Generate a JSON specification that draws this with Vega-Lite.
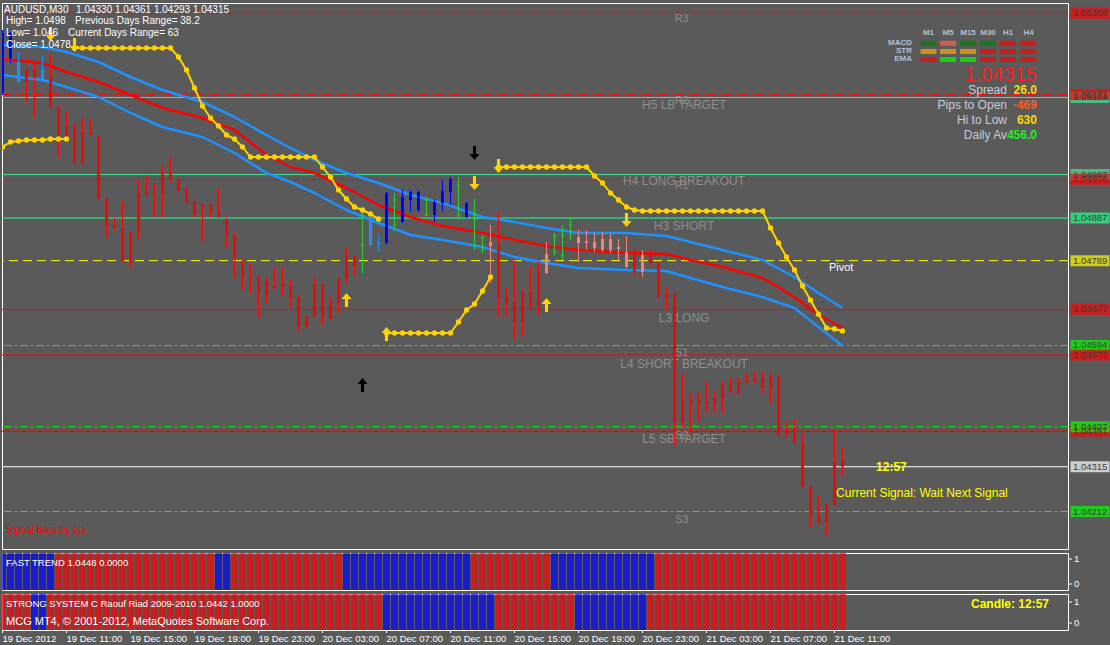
{
"$schema":"https://vega.github.io/schema/vega-lite/v6.json",
"background":"#5a5a5a",
"padding":{"left":0,"top":2,"right":0,"bottom":0},
"spacing":2,
"config":{"view":{"stroke":"#ffffff","strokeWidth":1},"font":"Liberation Sans","text":{"font":"Liberation Sans"},"axis":{"grid":false,"labelFont":"Liberation Sans"}},
"resolve":{"scale":{"x":"independent","y":"independent","color":"independent"}},
"datasets":{
"bars":[
{"i":0,"o":1.051769,"h":1.053195,"l":1.0517,"c":1.053126,"sig":"up","stop":1.050504,"seg":"a","ft":"up","ss":"dn"},
{"i":1,"o":1.052551,"h":1.053149,"l":1.052436,"c":1.053126,"sig":"up","stop":1.050619,"seg":"a","ft":"up","ss":"dn"},
{"i":2,"o":1.051999,"h":1.052689,"l":1.051976,"c":1.052459,"sig":"wup","stop":1.050642,"seg":"a","ft":"up","ss":"dn"},
{"i":3,"o":1.052275,"h":1.052298,"l":1.051539,"c":1.051999,"sig":"dn","stop":1.050665,"seg":"a","ft":"up","ss":"dn"},
{"i":4,"o":1.052275,"h":1.052459,"l":1.051194,"c":1.052114,"sig":"dn","stop":1.050665,"seg":"a","ft":"up","ss":"up"},
{"i":5,"o":1.052045,"h":1.052597,"l":1.052022,"c":1.052275,"sig":"wup","stop":1.050665,"seg":"a","ft":"up","ss":"up"},
{"i":6,"o":1.052114,"h":1.052666,"l":1.051401,"c":1.051424,"sig":"dn","stop":1.050688,"seg":"a","ft":"up","ss":"dn"},
{"i":7,"o":1.051424,"h":1.051447,"l":1.050274,"c":1.050711,"sig":"dn","stop":1.050688,"seg":"a","ft":"dn","ss":"dn"},
{"i":8,"o":1.050964,"h":1.051309,"l":1.050688,"c":1.050711,"sig":"dn","stop":1.050688,"seg":"a","ft":"dn","ss":"dn"},
{"i":9,"o":1.050964,"h":1.051056,"l":1.050113,"c":1.050136,"sig":"dn","stop":1.052781,"seg":"b","ft":"dn","ss":"dn"},
{"i":10,"o":1.050849,"h":1.051194,"l":1.050113,"c":1.050136,"sig":"dn","stop":1.052781,"seg":"b","ft":"dn","ss":"dn"},
{"i":11,"o":1.050849,"h":1.051125,"l":1.050757,"c":1.05078,"sig":"dn","stop":1.052781,"seg":"b","ft":"dn","ss":"dn"},
{"i":12,"o":1.050757,"h":1.05078,"l":1.049285,"c":1.049308,"sig":"dn","stop":1.052781,"seg":"b","ft":"dn","ss":"dn"},
{"i":13,"o":1.049308,"h":1.049354,"l":1.048411,"c":1.04871,"sig":"dn","stop":1.052781,"seg":"b","ft":"dn","ss":"dn"},
{"i":14,"o":1.04871,"h":1.048871,"l":1.048595,"c":1.048641,"sig":"dn","stop":1.052781,"seg":"b","ft":"dn","ss":"dn"},
{"i":15,"o":1.048641,"h":1.049239,"l":1.047859,"c":1.047882,"sig":"dn","stop":1.052781,"seg":"b","ft":"dn","ss":"dn"},
{"i":16,"o":1.048549,"h":1.048572,"l":1.047721,"c":1.047882,"sig":"dn","stop":1.052781,"seg":"b","ft":"dn","ss":"dn"},
{"i":17,"o":1.049423,"h":1.049745,"l":1.048365,"c":1.048549,"sig":"dn","stop":1.052781,"seg":"b","ft":"dn","ss":"dn"},
{"i":18,"o":1.049446,"h":1.04986,"l":1.049377,"c":1.0494,"sig":"dn","stop":1.052781,"seg":"b","ft":"dn","ss":"dn"},
{"i":19,"o":1.049446,"h":1.049676,"l":1.048894,"c":1.0494,"sig":"dn","stop":1.052781,"seg":"b","ft":"dn","ss":"dn"},
{"i":20,"o":1.049883,"h":1.05009,"l":1.048894,"c":1.049446,"sig":"dn","stop":1.052781,"seg":"b","ft":"dn","ss":"dn"},
{"i":21,"o":1.049883,"h":1.050274,"l":1.049699,"c":1.049745,"sig":"dn","stop":1.052781,"seg":"b","ft":"dn","ss":"dn"},
{"i":22,"o":1.049768,"h":1.049768,"l":1.049492,"c":1.049515,"sig":"dn","stop":1.052574,"seg":"b","ft":"dn","ss":"dn"},
{"i":23,"o":1.049538,"h":1.049561,"l":1.049216,"c":1.049239,"sig":"dn","stop":1.052275,"seg":"b","ft":"dn","ss":"dn"},
{"i":24,"o":1.049239,"h":1.049262,"l":1.048894,"c":1.04894,"sig":"dn","stop":1.051861,"seg":"b","ft":"dn","ss":"dn"},
{"i":25,"o":1.049193,"h":1.049193,"l":1.048319,"c":1.049147,"sig":"dn","stop":1.051447,"seg":"b","ft":"dn","ss":"dn"},
{"i":26,"o":1.049193,"h":1.049216,"l":1.048894,"c":1.049032,"sig":"dn","stop":1.051171,"seg":"b","ft":"dn","ss":"dn"},
{"i":27,"o":1.049032,"h":1.049561,"l":1.048871,"c":1.048894,"sig":"dn","stop":1.050987,"seg":"b","ft":"up","ss":"dn"},
{"i":28,"o":1.048848,"h":1.048871,"l":1.048204,"c":1.04848,"sig":"dn","stop":1.05078,"seg":"b","ft":"up","ss":"dn"},
{"i":29,"o":1.04848,"h":1.048503,"l":1.047491,"c":1.047974,"sig":"dn","stop":1.050688,"seg":"b","ft":"dn","ss":"dn"},
{"i":30,"o":1.047813,"h":1.047905,"l":1.047215,"c":1.047514,"sig":"dn","stop":1.050504,"seg":"b","ft":"dn","ss":"dn"},
{"i":31,"o":1.047514,"h":1.047836,"l":1.047146,"c":1.047468,"sig":"dn","stop":1.050274,"seg":"b","ft":"dn","ss":"dn"},
{"i":32,"o":1.047514,"h":1.047537,"l":1.046571,"c":1.047146,"sig":"dn","stop":1.050274,"seg":"b","ft":"dn","ss":"dn"},
{"i":33,"o":1.047399,"h":1.047514,"l":1.046916,"c":1.047123,"sig":"dn","stop":1.050274,"seg":"b","ft":"dn","ss":"dn"},
{"i":34,"o":1.047307,"h":1.047721,"l":1.047238,"c":1.047261,"sig":"dn","stop":1.050274,"seg":"b","ft":"dn","ss":"dn"},
{"i":35,"o":1.047376,"h":1.047721,"l":1.0471,"c":1.047284,"sig":"dn","stop":1.050274,"seg":"b","ft":"dn","ss":"dn"},
{"i":36,"o":1.047284,"h":1.047445,"l":1.046801,"c":1.047054,"sig":"dn","stop":1.050274,"seg":"b","ft":"dn","ss":"dn"},
{"i":37,"o":1.047054,"h":1.047077,"l":1.046272,"c":1.046364,"sig":"dn","stop":1.050274,"seg":"b","ft":"dn","ss":"dn"},
{"i":38,"o":1.046617,"h":1.04664,"l":1.046341,"c":1.046364,"sig":"dn","stop":1.050274,"seg":"b","ft":"dn","ss":"dn"},
{"i":39,"o":1.047353,"h":1.047514,"l":1.046571,"c":1.046594,"sig":"dn","stop":1.050274,"seg":"b","ft":"dn","ss":"dn"},
{"i":40,"o":1.047353,"h":1.047376,"l":1.04641,"c":1.046594,"sig":"dn","stop":1.050044,"seg":"b","ft":"dn","ss":"dn"},
{"i":41,"o":1.046939,"h":1.047054,"l":1.046548,"c":1.046571,"sig":"dn","stop":1.049814,"seg":"b","ft":"dn","ss":"dn"},
{"i":42,"o":1.047468,"h":1.047514,"l":1.046686,"c":1.046916,"sig":"dn","stop":1.049515,"seg":"b","ft":"dn","ss":"dn"},
{"i":43,"o":1.047997,"h":1.048181,"l":1.047376,"c":1.047468,"sig":"dn","stop":1.049308,"seg":"b","ft":"up","ss":"dn"},
{"i":44,"o":1.047997,"h":1.04802,"l":1.04756,"c":1.047767,"sig":"dn","stop":1.049124,"seg":"b","ft":"up","ss":"dn"},
{"i":45,"o":1.048249,"h":1.049009,"l":1.047606,"c":1.04894,"sig":"flat","stop":1.049055,"seg":"b","ft":"up","ss":"dn"},
{"i":46,"o":1.048894,"h":1.048917,"l":1.048226,"c":1.048249,"sig":"wup","stop":1.048963,"seg":"b","ft":"up","ss":"dn"},
{"i":47,"o":1.048319,"h":1.04848,"l":1.048089,"c":1.048273,"sig":"wup","stop":1.048848,"seg":"b","ft":"up","ss":"dn"},
{"i":48,"o":1.048296,"h":1.049469,"l":1.048273,"c":1.049446,"sig":"up","stop":1.046226,"seg":"c","ft":"up","ss":"up"},
{"i":49,"o":1.04871,"h":1.049446,"l":1.048595,"c":1.049285,"sig":"flat","stop":1.046226,"seg":"c","ft":"up","ss":"up"},
{"i":50,"o":1.048779,"h":1.049515,"l":1.048756,"c":1.049354,"sig":"up","stop":1.046226,"seg":"c","ft":"up","ss":"up"},
{"i":51,"o":1.049285,"h":1.049515,"l":1.049009,"c":1.049469,"sig":"up","stop":1.046226,"seg":"c","ft":"up","ss":"up"},
{"i":52,"o":1.049055,"h":1.049515,"l":1.049009,"c":1.049469,"sig":"up","stop":1.046226,"seg":"c","ft":"up","ss":"up"},
{"i":53,"o":1.04894,"h":1.049354,"l":1.048917,"c":1.049285,"sig":"flat","stop":1.046226,"seg":"c","ft":"up","ss":"up"},
{"i":54,"o":1.04894,"h":1.049308,"l":1.048779,"c":1.049239,"sig":"up","stop":1.046226,"seg":"c","ft":"up","ss":"up"},
{"i":55,"o":1.049216,"h":1.049745,"l":1.049009,"c":1.049492,"sig":"up","stop":1.046226,"seg":"c","ft":"up","ss":"up"},
{"i":56,"o":1.049469,"h":1.049814,"l":1.04917,"c":1.049768,"sig":"up","stop":1.046226,"seg":"c","ft":"up","ss":"up"},
{"i":57,"o":1.04894,"h":1.049814,"l":1.048894,"c":1.04963,"sig":"flat","stop":1.046479,"seg":"c","ft":"up","ss":"up"},
{"i":58,"o":1.048894,"h":1.049239,"l":1.048871,"c":1.049216,"sig":"up","stop":1.046755,"seg":"c","ft":"up","ss":"up"},
{"i":59,"o":1.048249,"h":1.049308,"l":1.048135,"c":1.04894,"sig":"flat","stop":1.046893,"seg":"c","ft":"dn","ss":"up"},
{"i":60,"o":1.048135,"h":1.04848,"l":1.048066,"c":1.048411,"sig":"flat","stop":1.047192,"seg":"c","ft":"dn","ss":"up"},
{"i":61,"o":1.048319,"h":1.04871,"l":1.047376,"c":1.048227,"sig":"wdn","stop":1.047514,"seg":"c","ft":"dn","ss":"up"},
{"i":62,"o":1.048296,"h":1.049009,"l":1.046594,"c":1.047054,"sig":"dn","stop":1.050044,"seg":"d","ft":"dn","ss":"dn"},
{"i":63,"o":1.047077,"h":1.047284,"l":1.046594,"c":1.046939,"sig":"dn","stop":1.050044,"seg":"d","ft":"dn","ss":"dn"},
{"i":64,"o":1.046939,"h":1.047905,"l":1.046065,"c":1.046479,"sig":"dn","stop":1.050044,"seg":"d","ft":"dn","ss":"dn"},
{"i":65,"o":1.047192,"h":1.047215,"l":1.04618,"c":1.046479,"sig":"dn","stop":1.050044,"seg":"d","ft":"dn","ss":"dn"},
{"i":66,"o":1.047169,"h":1.047721,"l":1.046778,"c":1.046801,"sig":"dn","stop":1.050044,"seg":"d","ft":"dn","ss":"dn"},
{"i":67,"o":1.047629,"h":1.047859,"l":1.04664,"c":1.046824,"sig":"dn","stop":1.050044,"seg":"d","ft":"dn","ss":"dn"},
{"i":68,"o":1.048043,"h":1.048319,"l":1.047583,"c":1.047606,"sig":"wdn","stop":1.050044,"seg":"d","ft":"dn","ss":"dn"},
{"i":69,"o":1.048089,"h":1.048526,"l":1.04802,"c":1.048457,"sig":"flat","stop":1.050044,"seg":"d","ft":"up","ss":"dn"},
{"i":70,"o":1.04802,"h":1.04871,"l":1.047905,"c":1.04848,"sig":"flat","stop":1.050044,"seg":"d","ft":"up","ss":"dn"},
{"i":71,"o":1.04848,"h":1.048871,"l":1.048365,"c":1.04871,"sig":"flat","stop":1.050044,"seg":"d","ft":"up","ss":"dn"},
{"i":72,"o":1.048434,"h":1.048595,"l":1.047859,"c":1.048296,"sig":"wdn","stop":1.050044,"seg":"d","ft":"up","ss":"up"},
{"i":73,"o":1.048342,"h":1.048595,"l":1.048135,"c":1.048296,"sig":"wdn","stop":1.050044,"seg":"d","ft":"up","ss":"up"},
{"i":74,"o":1.048319,"h":1.048526,"l":1.048089,"c":1.048181,"sig":"wdn","stop":1.049837,"seg":"d","ft":"up","ss":"up"},
{"i":75,"o":1.048388,"h":1.048549,"l":1.048089,"c":1.048135,"sig":"wdn","stop":1.049676,"seg":"d","ft":"up","ss":"up"},
{"i":76,"o":1.048388,"h":1.048526,"l":1.048066,"c":1.048135,"sig":"wdn","stop":1.049446,"seg":"d","ft":"up","ss":"up"},
{"i":77,"o":1.048204,"h":1.048388,"l":1.047905,"c":1.048158,"sig":"wdn","stop":1.049285,"seg":"d","ft":"up","ss":"up"},
{"i":78,"o":1.048089,"h":1.048457,"l":1.047721,"c":1.047744,"sig":"wdn","stop":1.049124,"seg":"d","ft":"up","ss":"up"},
{"i":79,"o":1.048135,"h":1.048158,"l":1.04756,"c":1.047629,"sig":"dn","stop":1.049055,"seg":"d","ft":"up","ss":"up"},
{"i":80,"o":1.04802,"h":1.048135,"l":1.047514,"c":1.047629,"sig":"wdn","stop":1.049032,"seg":"d","ft":"up","ss":"up"},
{"i":81,"o":1.048089,"h":1.048135,"l":1.04779,"c":1.047836,"sig":"dn","stop":1.049032,"seg":"d","ft":"up","ss":"dn"},
{"i":82,"o":1.047836,"h":1.047859,"l":1.047031,"c":1.047054,"sig":"dn","stop":1.049032,"seg":"d","ft":"dn","ss":"dn"},
{"i":83,"o":1.0471,"h":1.047284,"l":1.046755,"c":1.047054,"sig":"dn","stop":1.049032,"seg":"d","ft":"dn","ss":"dn"},
{"i":84,"o":1.047123,"h":1.047146,"l":1.04365,"c":1.044156,"sig":"dn","stop":1.049032,"seg":"d","ft":"dn","ss":"dn"},
{"i":85,"o":1.044685,"h":1.045306,"l":1.044064,"c":1.044156,"sig":"dn","stop":1.049032,"seg":"d","ft":"dn","ss":"dn"},
{"i":86,"o":1.044685,"h":1.044846,"l":1.043926,"c":1.044616,"sig":"dn","stop":1.049032,"seg":"d","ft":"dn","ss":"dn"},
{"i":87,"o":1.044685,"h":1.044892,"l":1.044179,"c":1.044616,"sig":"dn","stop":1.049032,"seg":"d","ft":"dn","ss":"dn"},
{"i":88,"o":1.044662,"h":1.045099,"l":1.044386,"c":1.044593,"sig":"dn","stop":1.049032,"seg":"d","ft":"dn","ss":"dn"},
{"i":89,"o":1.044731,"h":1.044869,"l":1.044386,"c":1.04457,"sig":"dn","stop":1.049032,"seg":"d","ft":"dn","ss":"dn"},
{"i":90,"o":1.045032,"h":1.045099,"l":1.044386,"c":1.044708,"sig":"dn","stop":1.049032,"seg":"d","ft":"dn","ss":"dn"},
{"i":91,"o":1.045032,"h":1.045191,"l":1.044846,"c":1.044869,"sig":"dn","stop":1.049032,"seg":"d","ft":"dn","ss":"dn"},
{"i":92,"o":1.045099,"h":1.045191,"l":1.044823,"c":1.044846,"sig":"dn","stop":1.049032,"seg":"d","ft":"dn","ss":"dn"},
{"i":93,"o":1.045145,"h":1.045306,"l":1.045053,"c":1.045076,"sig":"dn","stop":1.049032,"seg":"d","ft":"dn","ss":"dn"},
{"i":94,"o":1.045214,"h":1.045352,"l":1.045076,"c":1.045145,"sig":"dn","stop":1.049032,"seg":"d","ft":"dn","ss":"dn"},
{"i":95,"o":1.045214,"h":1.045352,"l":1.044846,"c":1.044961,"sig":"dn","stop":1.049032,"seg":"d","ft":"dn","ss":"dn"},
{"i":96,"o":1.045237,"h":1.045306,"l":1.044616,"c":1.044984,"sig":"dn","stop":1.048641,"seg":"d","ft":"dn","ss":"dn"},
{"i":97,"o":1.045237,"h":1.04526,"l":1.043857,"c":1.04388,"sig":"dn","stop":1.048296,"seg":"d","ft":"dn","ss":"dn"},
{"i":98,"o":1.043995,"h":1.044179,"l":1.043811,"c":1.043903,"sig":"dn","stop":1.047974,"seg":"d","ft":"dn","ss":"dn"},
{"i":99,"o":1.044018,"h":1.044225,"l":1.043673,"c":1.043696,"sig":"dn","stop":1.047675,"seg":"d","ft":"dn","ss":"dn"},
{"i":100,"o":1.043696,"h":1.043926,"l":1.042661,"c":1.042684,"sig":"dn","stop":1.047307,"seg":"d","ft":"dn","ss":"dn"},
{"i":101,"o":1.042684,"h":1.04273,"l":1.041764,"c":1.04204,"sig":"dn","stop":1.04698,"seg":"d","ft":"dn","ss":"dn"},
{"i":102,"o":1.04204,"h":1.0425,"l":1.041856,"c":1.041879,"sig":"dn","stop":1.046658,"seg":"d","ft":"dn","ss":"dn"},
{"i":103,"o":1.041879,"h":1.042316,"l":1.04158,"c":1.042293,"sig":"dn","stop":1.046341,"seg":"d","ft":"dn","ss":"dn"},
{"i":104,"o":1.04227,"h":1.043995,"l":1.042247,"c":1.043259,"sig":"dn","stop":1.046318,"seg":"d","ft":"dn","ss":"dn"},
{"i":105,"o":1.0433,"h":1.04361,"l":1.04293,"c":1.04315,"sig":"dn","stop":1.046272,"seg":"d","ft":"dn","ss":"dn"}
],
"ma":[
{"i":0,"ub":1.05285,"ma":1.052528,"lb":1.05216},
{"i":5,"ub":1.052804,"ma":1.052436,"lb":1.052045},
{"i":8,"ub":1.052689,"ma":1.052229,"lb":1.051884},
{"i":12,"ub":1.052459,"ma":1.051999,"lb":1.051654},
{"i":16,"ub":1.052114,"ma":1.0517,"lb":1.051286},
{"i":20,"ub":1.051815,"ma":1.051401,"lb":1.050964},
{"i":25,"ub":1.051539,"ma":1.051171,"lb":1.050734},
{"i":29,"ub":1.051194,"ma":1.050895,"lb":1.050366},
{"i":33,"ub":1.05078,"ma":1.05032,"lb":1.049906},
{"i":36,"ub":1.050481,"ma":1.050044,"lb":1.049699},
{"i":39,"ub":1.050205,"ma":1.049906,"lb":1.049446},
{"i":43,"ub":1.049906,"ma":1.049561,"lb":1.049055},
{"i":47,"ub":1.049676,"ma":1.04917,"lb":1.048756},
{"i":51,"ub":1.0494,"ma":1.048894,"lb":1.04848},
{"i":55,"ub":1.049216,"ma":1.048687,"lb":1.048365},
{"i":60,"ub":1.048894,"ma":1.048526,"lb":1.048204},
{"i":64,"ub":1.048779,"ma":1.048365,"lb":1.047974},
{"i":68,"ub":1.048641,"ma":1.048227,"lb":1.047836},
{"i":72,"ub":1.048526,"ma":1.048135,"lb":1.047721},
{"i":78,"ub":1.048526,"ma":1.048066,"lb":1.047675},
{"i":83,"ub":1.048457,"ma":1.048043,"lb":1.047652},
{"i":86,"ub":1.048319,"ma":1.047905,"lb":1.047491},
{"i":90,"ub":1.048135,"ma":1.047744,"lb":1.047284},
{"i":95,"ub":1.047905,"ma":1.047491,"lb":1.047054},
{"i":99,"ub":1.047514,"ma":1.047054,"lb":1.046801},
{"i":102,"ub":1.047146,"ma":1.04664,"lb":1.046364},
{"i":105,"ub":1.046801,"ma":1.046341,"lb":1.045927}
],
"levels":[
{"p":1.05358,"k":"rdd"},
{"p":1.051643,"k":"mint"},
{"p":1.05171,"k":"rdd"},
{"p":1.04987,"k":"mint"},
{"p":1.04976,"k":"rdd"},
{"p":1.04887,"k":"spring"},
{"p":1.04789,"k":"ydash"},
{"p":1.04677,"k":"r3"},
{"p":1.04594,"k":"gdd"},
{"p":1.04572,"k":"r2"},
{"p":1.04397,"k":"r1"},
{"p":1.04407,"k":"gdd"},
{"p":1.04315,"k":"w"},
{"p":1.04212,"k":"gdd"}
],
"arrows":[
{"i":6,"p":1.053103,"dir":"down","src":"stop"},
{"i":9,"p":1.05285,"dir":"down","src":"stop"},
{"i":43,"p":1.046985,"dir":"up","src":"stop"},
{"i":45,"p":1.04503,"dir":"up","src":"sig"},
{"i":48,"p":1.046203,"dir":"up","src":"stop"},
{"i":59,"p":1.050366,"dir":"down","src":"sig"},
{"i":59,"p":1.049676,"dir":"down","src":"stop"},
{"i":62,"p":1.050067,"dir":"down","src":"stop"},
{"i":68,"p":1.04687,"dir":"up","src":"stop"},
{"i":78,"p":1.048825,"dir":"down","src":"stop"}
],
"cells":[
{"i":115.75,"p":1.05289,"v":"bull"},{"i":118.19,"p":1.05289,"v":"wbear"},{"i":120.69,"p":1.05289,"v":"bull"},{"i":123.19,"p":1.05289,"v":"bull"},{"i":125.69,"p":1.05289,"v":"bear"},{"i":128.25,"p":1.05289,"v":"bear"},
{"i":115.75,"p":1.052701,"v":"neut"},{"i":118.19,"p":1.052701,"v":"neut"},{"i":120.69,"p":1.052701,"v":"neut"},{"i":123.19,"p":1.052701,"v":"bear"},{"i":125.69,"p":1.052701,"v":"bear"},{"i":128.25,"p":1.052701,"v":"bear"},
{"i":115.75,"p":1.052517,"v":"bear"},{"i":118.19,"p":1.052517,"v":"sbull"},{"i":120.69,"p":1.052517,"v":"sbull"},{"i":123.19,"p":1.052517,"v":"bear"},{"i":125.69,"p":1.052517,"v":"bear"},{"i":128.25,"p":1.052517,"v":"bear"}
],
"xt":[
{"i":0,"lab":"19 Dec 2012"},{"i":8,"lab":"19 Dec 11:00"},{"i":16,"lab":"19 Dec 15:00"},{"i":24,"lab":"19 Dec 19:00"},{"i":32,"lab":"19 Dec 23:00"},
{"i":40,"lab":"20 Dec 03:00"},{"i":48,"lab":"20 Dec 07:00"},{"i":56,"lab":"20 Dec 11:00"},{"i":64,"lab":"20 Dec 15:00"},{"i":72,"lab":"20 Dec 19:00"},
{"i":80,"lab":"20 Dec 23:00"},{"i":88,"lab":"21 Dec 03:00"},{"i":96,"lab":"21 Dec 07:00"},{"i":104,"lab":"21 Dec 11:00"}
],
"yl":[{"v":0},{"v":1}],
"notes":[
{"i":0.19,"p":1.053655,"t":"AUDUSD,M30","r":"info"},
{"i":9.2,"p":1.053655,"t":"1.04330 1.04361 1.04293 1.04315","r":"info"},
{"i":0.44,"p":1.053402,"t":"High= 1.0498","r":"info"},
{"i":9.06,"p":1.053402,"t":"Previous Days Range= 38.2","r":"info"},
{"i":0.44,"p":1.053126,"t":"Low= 1.046","r":"info"},
{"i":8.19,"p":1.053126,"t":"Current Days Range= 63","r":"info"},
{"i":0.44,"p":1.05285,"t":"Close= 1.0478","r":"info"},
{"i":85.2,"p":1.05147,"t":"H5 LB TARGET","r":"lvl"},
{"i":85.2,"p":1.049722,"t":"H4 LONG BREAKOUT","r":"lvl"},
{"i":85.2,"p":1.048687,"t":"H3 SHORT","r":"lvl"},
{"i":85.2,"p":1.046571,"t":"L3 LONG","r":"lvl"},
{"i":85.2,"p":1.045513,"t":"L4 SHORT BREAKOUT","r":"lvl"},
{"i":85.2,"p":1.043788,"t":"L5 SB TARGET","r":"lvl"},
{"i":84.9,"p":1.053448,"t":"R3","r":"piv"},
{"i":84.9,"p":1.051562,"t":"R2","r":"piv"},
{"i":84.9,"p":1.049607,"t":"R1","r":"piv"},
{"i":84.9,"p":1.045766,"t":"S1","r":"piv"},
{"i":84.9,"p":1.043857,"t":"S2","r":"piv"},
{"i":84.9,"p":1.041925,"t":"S3","r":"piv"},
{"i":103.3,"p":1.047721,"t":"Pivot","r":"pvt"},
{"i":109.2,"p":1.043144,"t":"12:57","r":"clock"},
{"i":104.2,"p":1.042546,"t":"Current Signal: Wait Next Signal","r":"cur"},
{"i":0.44,"p":1.041695,"t":"Signal Bars by cja","r":"cja"},
{"i":115.75,"p":1.053119,"t":"M1","r":"tf"},
{"i":118.19,"p":1.053119,"t":"M5","r":"tf"},
{"i":120.69,"p":1.053119,"t":"M15","r":"tf"},
{"i":123.19,"p":1.053119,"t":"M30","r":"tf"},
{"i":125.69,"p":1.053119,"t":"H1","r":"tf"},
{"i":128.25,"p":1.053119,"t":"H4","r":"tf"},
{"i":113.69,"p":1.05289,"t":"MACD","r":"row"},
{"i":113.69,"p":1.052701,"t":"STR","r":"row"},
{"i":113.69,"p":1.052517,"t":"EMA","r":"row"},
{"i":129.31,"p":1.05216,"t":"1.04315","r":"bid"},
{"i":125.56,"p":1.051815,"t":"Spread","r":"stat"},
{"i":125.56,"p":1.05147,"t":"Pips to Open","r":"stat"},
{"i":125.56,"p":1.051125,"t":"Hi to Low","r":"stat"},
{"i":125.56,"p":1.05078,"t":"Daily Av","r":"stat"},
{"i":129.31,"p":1.051815,"t":"26.0","r":"gold"},
{"i":129.31,"p":1.051125,"t":"630","r":"gold"},
{"i":129.31,"p":1.05147,"t":"-469","r":"neg"},
{"i":129.31,"p":1.05078,"t":"456.0","r":"avg"},
{"i":0.44,"v":0.84,"t":"FAST TREND 1.0448 0.0000","r":"ft"},
{"i":0.44,"v":0.905,"t":"STRONG SYSTEM C Raouf Riad 2009-2010  1.0442 1.0000","r":"ss"},
{"i":0.44,"v":0.048,"t":"MCG MT4, © 2001-2012, MetaQuotes Software Corp.","r":"mcg"},
{"i":121.06,"v":0.905,"t":"Candle:  12:57","r":"candle"}
]
},
"vconcat":[
{
"width":1066,"height":546,
"resolve":{"scale":{"color":"independent"}},
"layer":[
{"data":{"name":"levels"},"mark":{"type":"rule"},
 "encoding":{
  "y":{"field":"p","type":"quantitative","scale":{"domain":[1.041258,1.053816],"nice":false,"zero":false},
       "axis":{"orient":"right","values":[1.05285,1.0521,1.0513,1.05055,1.04905,1.04825,1.0475,1.0452,1.04445,1.0437,1.04295,1.04135],"format":".5f","title":null,"grid":false,"domain":false,"tickSize":4,"tickColor":"#ffffff","labelColor":"#ffffff","labelFontSize":9.5,"labelPadding":2,"labelFlush":false,"labelOverlap":false}},
  "color":{"field":"k","type":"nominal","scale":{"domain":["rdd","mint","spring","ydash","r3","gdd","r2","r1","w"],"range":["#ff0000","#46e29a","#1fff8a","#ffff00","#ff0000","#00ff00","#ff0000","#ff0000","#ffffff"]},"legend":null},
  "strokeWidth":{"field":"k","type":"ordinal","scale":{"domain":["rdd","mint","spring","ydash","r3","gdd","r2","r1","w"],"range":[1,1,3,1,3,1,2,1,1]},"legend":null},
  "strokeDash":{"field":"k","type":"nominal","scale":{"domain":["rdd","mint","spring","ydash","r3","gdd","r2","r1","w"],"range":[[8,3,2,3],[1,0],[1,0],[9,5],[1,0],[8,3,2,3],[1,0],[1,0],[1,0]]},"legend":null}
 }},
{"data":{"name":"notes"},"transform":[{"filter":"datum.r==='lvl'"}],"mark":{"type":"text","align":"center","baseline":"middle","fontSize":12,"color":"#8e8e8e"},
 "encoding":{"x":{"field":"i","type":"quantitative","scale":{"domain":[-0.0625,133.1875],"nice":false,"zero":false},"axis":null},"y":{"field":"p","type":"quantitative","axis":null},"text":{"field":"t"}}},
{"data":{"name":"notes"},"transform":[{"filter":"datum.r==='piv'"}],"mark":{"type":"text","align":"center","baseline":"middle","fontSize":11,"color":"#8e8e8e"},
 "encoding":{"x":{"field":"i","type":"quantitative","axis":null},"y":{"field":"p","type":"quantitative","axis":null},"text":{"field":"t"}}},
{"data":{"name":"ma"},"mark":{"type":"line","color":"#1e90ff","strokeWidth":2.5,"strokeJoin":"round"},
 "encoding":{"x":{"field":"i","type":"quantitative","axis":null},"y":{"field":"ub","type":"quantitative","axis":null}}},
{"data":{"name":"ma"},"mark":{"type":"line","color":"#1e90ff","strokeWidth":2.5,"strokeJoin":"round"},
 "encoding":{"x":{"field":"i","type":"quantitative","axis":null},"y":{"field":"lb","type":"quantitative","axis":null}}},
{"data":{"name":"ma"},"mark":{"type":"line","color":"#ff0000","strokeWidth":2.5,"strokeJoin":"round"},
 "encoding":{"x":{"field":"i","type":"quantitative","axis":null},"y":{"field":"ma","type":"quantitative","axis":null}}},
{"data":{"name":"bars"},"mark":{"type":"rule","strokeWidth":1,"clip":true},
 "encoding":{"x":{"field":"i","type":"quantitative","axis":null},"y":{"field":"l","type":"quantitative","axis":null},"y2":{"field":"h"},
  "color":{"field":"sig","type":"nominal","scale":{"domain":["dn","up","wup","wdn","flat"],"range":["#ff0000","#0000ff","#1e90ff","#fa8072","#32cd32"]},"legend":null}}},
{"data":{"name":"bars"},"transform":[{"filter":"datum.sig!=='flat'"}],"mark":{"type":"rule","strokeWidth":3,"clip":true},
 "encoding":{"x":{"field":"i","type":"quantitative","axis":null},"y":{"field":"o","type":"quantitative","axis":null},"y2":{"field":"c"},
  "color":{"field":"sig","type":"nominal","scale":{"domain":["dn","up","wup","wdn","flat"],"range":["#ff0000","#0000ff","#1e90ff","#fa8072","#32cd32"]},"legend":null}}},
{"data":{"name":"bars"},"transform":[{"filter":"datum.sig==='flat'"}],"mark":{"type":"tick","orient":"horizontal","size":4,"thickness":1,"color":"#32cd32"},
 "encoding":{"x":{"field":"i","type":"quantitative","axis":null},"y":{"field":"o","type":"quantitative","axis":null}}},
{"data":{"name":"bars"},"transform":[{"filter":"datum.sig==='flat'"}],"mark":{"type":"tick","orient":"horizontal","size":4,"thickness":1,"color":"#32cd32"},
 "encoding":{"x":{"field":"i","type":"quantitative","axis":null},"y":{"field":"c","type":"quantitative","axis":null}}},
{"data":{"name":"bars"},"mark":{"type":"line","color":"#ffd200","strokeWidth":2,"strokeJoin":"round","clip":true,"point":{"filled":true,"size":28,"color":"#ffd200"}},
 "encoding":{"x":{"field":"i","type":"quantitative","axis":null},"y":{"field":"stop","type":"quantitative","axis":null},"detail":{"field":"seg"}}},
{"data":{"name":"arrows"},"mark":{"type":"point","filled":true,"opacity":1,"size":196},
 "encoding":{"x":{"field":"i","type":"quantitative","axis":null},"y":{"field":"p","type":"quantitative","axis":null},
  "shape":{"field":"dir","type":"nominal","scale":{"domain":["up","down"],"range":["M0,-1L0.72,-0.15L0.22,-0.15L0.22,1L-0.22,1L-0.22,-0.15L-0.72,-0.15Z","M0,1L0.72,0.15L0.22,0.15L0.22,-1L-0.22,-1L-0.22,0.15L-0.72,0.15Z"]},"legend":null},
  "color":{"field":"src","type":"nominal","scale":{"domain":["stop","sig"],"range":["#ffd200","#000000"]},"legend":null}}},
{"data":{"name":"notes"},"transform":[{"filter":"datum.r==='info'"}],"mark":{"type":"text","align":"left","baseline":"middle","fontSize":10,"color":"#ffffff"},
 "encoding":{"x":{"field":"i","type":"quantitative","axis":null},"y":{"field":"p","type":"quantitative","axis":null},"text":{"field":"t"}}},
{"data":{"name":"notes"},"transform":[{"filter":"datum.r==='pvt'"}],"mark":{"type":"text","align":"left","baseline":"middle","fontSize":11,"color":"#ffffff"},
 "encoding":{"x":{"field":"i","type":"quantitative","axis":null},"y":{"field":"p","type":"quantitative","axis":null},"text":{"field":"t"}}},
{"data":{"name":"notes"},"transform":[{"filter":"datum.r==='clock'"}],"mark":{"type":"text","align":"left","baseline":"middle","fontSize":12,"fontWeight":"bold","color":"#ffff00"},
 "encoding":{"x":{"field":"i","type":"quantitative","axis":null},"y":{"field":"p","type":"quantitative","axis":null},"text":{"field":"t"}}},
{"data":{"name":"notes"},"transform":[{"filter":"datum.r==='cur'"}],"mark":{"type":"text","align":"left","baseline":"middle","fontSize":12,"color":"#ffff00"},
 "encoding":{"x":{"field":"i","type":"quantitative","axis":null},"y":{"field":"p","type":"quantitative","axis":null},"text":{"field":"t"}}},
{"data":{"name":"notes"},"transform":[{"filter":"datum.r==='cja'"}],"mark":{"type":"text","align":"left","baseline":"middle","fontSize":10,"color":"#ff0000"},
 "encoding":{"x":{"field":"i","type":"quantitative","axis":null},"y":{"field":"p","type":"quantitative","axis":null},"text":{"field":"t"}}},
{"data":{"name":"notes"},"transform":[{"filter":"datum.r==='tf'"}],"mark":{"type":"text","align":"center","baseline":"middle","fontSize":8,"fontWeight":"bold","color":"#b0c0d8"},
 "encoding":{"x":{"field":"i","type":"quantitative","axis":null},"y":{"field":"p","type":"quantitative","axis":null},"text":{"field":"t"}}},
{"data":{"name":"notes"},"transform":[{"filter":"datum.r==='row'"}],"mark":{"type":"text","align":"right","baseline":"middle","fontSize":8,"fontWeight":"bold","color":"#b0c0d8"},
 "encoding":{"x":{"field":"i","type":"quantitative","axis":null},"y":{"field":"p","type":"quantitative","axis":null},"text":{"field":"t"}}},
{"data":{"name":"cells"},"mark":{"type":"tick","orient":"horizontal","size":16,"thickness":5},
 "encoding":{"x":{"field":"i","type":"quantitative","axis":null},"y":{"field":"p","type":"quantitative","axis":null},
  "color":{"field":"v","type":"nominal","scale":{"domain":["bull","wbear","bear","neut","sbull"],"range":["#008000","#ff6347","#ff0000","#ffa500","#00ff00"]},"legend":null}}},
{"data":{"name":"notes"},"transform":[{"filter":"datum.r==='bid'"}],"mark":{"type":"text","align":"right","baseline":"middle","fontSize":20,"color":"#ff1a1a"},
 "encoding":{"x":{"field":"i","type":"quantitative","axis":null},"y":{"field":"p","type":"quantitative","axis":null},"text":{"field":"t"}}},
{"data":{"name":"notes"},"transform":[{"filter":"datum.r==='stat'"}],"mark":{"type":"text","align":"right","baseline":"middle","fontSize":12,"color":"#c6cdd8"},
 "encoding":{"x":{"field":"i","type":"quantitative","axis":null},"y":{"field":"p","type":"quantitative","axis":null},"text":{"field":"t"}}},
{"data":{"name":"notes"},"transform":[{"filter":"datum.r==='gold'"}],"mark":{"type":"text","align":"right","baseline":"middle","fontSize":12,"fontWeight":"bold","color":"#ffd700"},
 "encoding":{"x":{"field":"i","type":"quantitative","axis":null},"y":{"field":"p","type":"quantitative","axis":null},"text":{"field":"t"}}},
{"data":{"name":"notes"},"transform":[{"filter":"datum.r==='neg'"}],"mark":{"type":"text","align":"right","baseline":"middle","fontSize":12,"fontWeight":"bold","color":"#ff5a1e"},
 "encoding":{"x":{"field":"i","type":"quantitative","axis":null},"y":{"field":"p","type":"quantitative","axis":null},"text":{"field":"t"}}},
{"data":{"name":"notes"},"transform":[{"filter":"datum.r==='avg'"}],"mark":{"type":"text","align":"right","baseline":"middle","fontSize":12,"fontWeight":"bold","color":"#22ee22"},
 "encoding":{"x":{"field":"i","type":"quantitative","axis":null},"y":{"field":"p","type":"quantitative","axis":null},"text":{"field":"t"}}},
{"data":{"name":"levels"},"mark":{"type":"tick","orient":"horizontal","size":39,"thickness":11},
 "encoding":{"x":{"datum":135.94,"type":"quantitative","axis":null},"y":{"field":"p","type":"quantitative","axis":null},
  "color":{"field":"k","type":"nominal","scale":{"domain":["rdd","mint","spring","ydash","r3","gdd","r2","r1","w"],"range":["#ff0000","#46e29a","#1fff8a","#ffff00","#ff0000","#00ff00","#ff0000","#ff0000","#ffffff"]},"legend":null}}},
{"data":{"name":"levels"},"mark":{"type":"text","align":"left","baseline":"middle","dx":5,"fontSize":9.5,"color":"#3c3c3c"},
 "encoding":{"x":{"datum":133.1875,"type":"quantitative","axis":null},"y":{"field":"p","type":"quantitative","axis":null},"text":{"field":"p","type":"quantitative","format":".5f"}}}
]
},
{
"width":1066,"height":37,
"layer":[
{"data":{"name":"bars"},"mark":{"type":"tick","orient":"vertical","size":37,"thickness":7,"clip":true},
 "encoding":{"x":{"field":"i","type":"quantitative","scale":{"domain":[-0.0625,133.1875],"nice":false,"zero":false},"axis":null},
  "y":{"datum":0.5,"type":"quantitative","scale":{"domain":[-0.24,1.24],"nice":false,"zero":false},"axis":null},
  "color":{"field":"ft","type":"nominal","scale":{"domain":["up","dn"],"range":["#0000ff","#ff0000"]},"legend":null}}},
{"data":{"name":"notes"},"transform":[{"filter":"datum.r==='ft'"}],"mark":{"type":"text","align":"left","baseline":"middle","fontSize":9.5,"color":"#ffffff"},
 "encoding":{"x":{"field":"i","type":"quantitative","axis":null},"y":{"field":"v","type":"quantitative","axis":null},"text":{"field":"t"}}},
{"data":{"name":"yl"},"mark":{"type":"rule","color":"#ffffff","strokeWidth":1},
 "encoding":{"x":{"datum":133.1875,"type":"quantitative","axis":null},"x2":{"datum":133.6875},"y":{"field":"v","type":"quantitative","axis":null}}},
{"data":{"name":"yl"},"mark":{"type":"text","align":"left","baseline":"middle","dx":6,"fontSize":9.5,"color":"#ffffff"},
 "encoding":{"x":{"datum":133.1875,"type":"quantitative","axis":null},"y":{"field":"v","type":"quantitative","axis":null},"text":{"field":"v","type":"quantitative","format":"d"}}}
]
},
{
"width":1066,"height":36,
"layer":[
{"data":{"name":"bars"},"mark":{"type":"tick","orient":"vertical","size":36,"thickness":7,"clip":true},
 "encoding":{"x":{"field":"i","type":"quantitative","scale":{"domain":[-0.0625,133.1875],"nice":false,"zero":false},"axis":null},
  "y":{"datum":0.524,"type":"quantitative","scale":{"domain":[-0.333,1.381],"nice":false,"zero":false},"axis":null},
  "color":{"field":"ss","type":"nominal","scale":{"domain":["up","dn"],"range":["#0000ff","#ff0000"]},"legend":null}}},
{"data":{"name":"notes"},"transform":[{"filter":"datum.r==='ss'"}],"mark":{"type":"text","align":"left","baseline":"middle","fontSize":9.5,"color":"#ffffff"},
 "encoding":{"x":{"field":"i","type":"quantitative","axis":null},"y":{"field":"v","type":"quantitative","axis":null},"text":{"field":"t"}}},
{"data":{"name":"notes"},"transform":[{"filter":"datum.r==='mcg'"}],"mark":{"type":"text","align":"left","baseline":"middle","fontSize":11,"color":"#ffffff"},
 "encoding":{"x":{"field":"i","type":"quantitative","axis":null},"y":{"field":"v","type":"quantitative","axis":null},"text":{"field":"t"}}},
{"data":{"name":"notes"},"transform":[{"filter":"datum.r==='candle'"}],"mark":{"type":"text","align":"left","baseline":"middle","fontSize":12,"fontWeight":"bold","color":"#ffff00"},
 "encoding":{"x":{"field":"i","type":"quantitative","axis":null},"y":{"field":"v","type":"quantitative","axis":null},"text":{"field":"t"}}},
{"data":{"name":"yl"},"mark":{"type":"rule","color":"#ffffff","strokeWidth":1},
 "encoding":{"x":{"datum":133.1875,"type":"quantitative","axis":null},"x2":{"datum":133.6875},"y":{"field":"v","type":"quantitative","axis":null}}},
{"data":{"name":"yl"},"mark":{"type":"text","align":"left","baseline":"middle","dx":6,"fontSize":9.5,"color":"#ffffff"},
 "encoding":{"x":{"datum":133.1875,"type":"quantitative","axis":null},"y":{"field":"v","type":"quantitative","axis":null},"text":{"field":"v","type":"quantitative","format":"d"}}},
{"data":{"name":"xt"},"mark":{"type":"rule","color":"#ffffff","strokeWidth":1},
 "encoding":{"x":{"field":"i","type":"quantitative","axis":null},"y":{"datum":-0.333,"type":"quantitative","axis":null},"y2":{"datum":-0.476}}},
{"data":{"name":"xt"},"mark":{"type":"text","align":"left","baseline":"top","fontSize":9.5,"color":"#ffffff"},
 "encoding":{"x":{"field":"i","type":"quantitative","axis":null},"y":{"datum":-0.524,"type":"quantitative","axis":null},"text":{"field":"lab"}}}
]
}
]
}
